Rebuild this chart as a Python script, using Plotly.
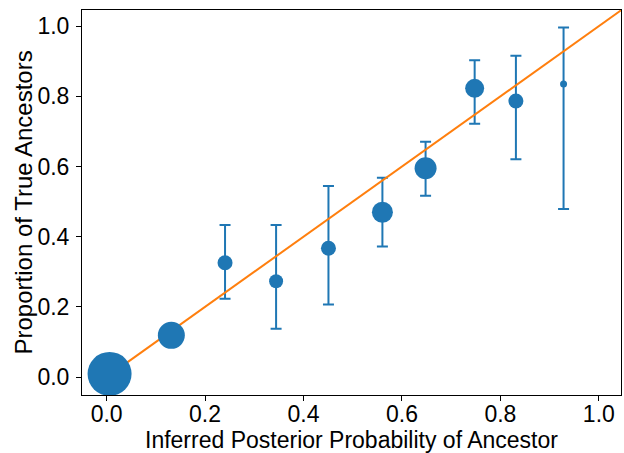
import plotly.graph_objects as go

# Data
posterior = [0.006, 0.1315, 0.2406, 0.3443, 0.4507, 0.5603, 0.648, 0.7477, 0.8315, 0.9283]
proportion = [0.009, 0.119, 0.326, 0.273, 0.367, 0.4697, 0.595, 0.8227, 0.7865, 0.835]
upper = [0.009, 0.119, 0.4335, 0.4335, 0.5446, 0.568, 0.6707, 0.903, 0.9155, 0.9963]
lower = [0.009, 0.119, 0.2235, 0.138, 0.2067, 0.3718, 0.517, 0.722, 0.6206, 0.479]
point_size = [44, 27, 15, 14, 15, 21, 22, 19, 15, 7]
diagonal = [0.0, 1.06]
tick_values = [0, 0.2, 0.4, 0.6, 0.8, 1.0]
tick_labels = ["0.0", "0.2", "0.4", "0.6", "0.8", "1.0"]
x_title = "Inferred Posterior Probability of Ancestor"
y_title = "Proportion of True Ancestors"

err_plus = [u - p for u, p in zip(upper, proportion)]
err_minus = [p - l for p, l in zip(proportion, lower)]

blue = "#1f77b4"
orange = "#ff7f0e"
font_family = "Arial, Liberation Sans, sans-serif"

fig = go.Figure()

# Error bars (drawn first)
fig.add_trace(go.Scatter(
    x=posterior, y=proportion, mode="markers",
    marker=dict(size=1, opacity=0, color=blue),
    error_y=dict(type="data", symmetric=False, array=err_plus, arrayminus=err_minus,
                 color=blue, thickness=2, width=5.5),
    showlegend=False, hoverinfo="skip",
))

# Diagonal reference line
fig.add_trace(go.Scatter(
    x=diagonal, y=diagonal, mode="lines",
    line=dict(color=orange, width=2),
    showlegend=False,
))

# Sized markers
fig.add_trace(go.Scatter(
    x=posterior, y=proportion, mode="markers",
    marker=dict(size=point_size, color=blue, line=dict(width=0), opacity=1),
    showlegend=False, cliponaxis=False,
))

axis_common = dict(
    showgrid=False, zeroline=False, automargin=False,
    showline=True, mirror=True, linecolor="black", linewidth=1,
    ticks="outside", ticklen=5, tickwidth=1, tickcolor="black",
    tickfont=dict(family=font_family, size=23, color="black"),
    tickvals=tick_values, ticktext=tick_labels,
)

fig.update_xaxes(range=[-0.05, 1.045], ticklabelstandoff=-7, **axis_common)
fig.update_yaxes(range=[-0.051, 1.046], ticklabelstandoff=2, **axis_common)

fig.add_annotation(text=x_title, xref="paper", yref="paper", x=0.5, y=0,
                   yshift=-45, yanchor="middle", showarrow=False, borderpad=0,
                   font=dict(family=font_family, size=23, color="black"))
fig.add_annotation(text=y_title, xref="paper", yref="paper", x=0, y=0.5,
                   xshift=-59, xanchor="center", yanchor="middle", textangle=-90,
                   showarrow=False, borderpad=0,
                   font=dict(family=font_family, size=24, color="black"))

fig.update_layout(
    width=624, height=453,
    margin=dict(l=82, r=3, t=10, b=58),
    paper_bgcolor="white", plot_bgcolor="white",
    font=dict(family=font_family, color="black"),
)

fig.write_html("out.html", config={"displayModeBar": False},
               post_script="document.body.style.margin='0';")
